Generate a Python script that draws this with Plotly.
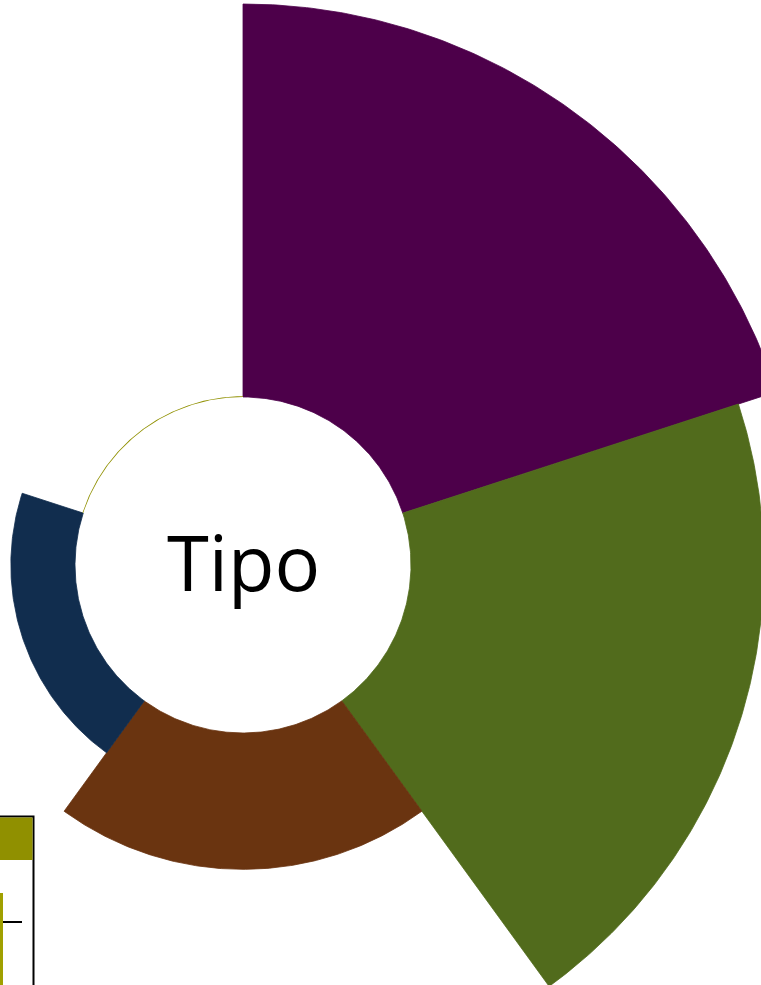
import numpy as np
import plotly.graph_objects as go

# Data
tipos = ["Residencial", "Comercial", "Industrial", "Institucional", "Otro"]
cantidades = [49, 44, 17, 8, 0.1]
colores = ["#4D004A", "#516B1C", "#6A3410", "#112D4E", "#909000"]

# Canvas geometry (pixels)
W, H = 761, 985
cx, cy = 243, 565          # centre of the radial chart
px_per_unit = 8.02         # radial scale: pixels per unit of "cantidad"
hole = 168 / px_per_unit   # radius of the central hole, in data units

# Each category gets an equal angular slice, starting at 12 o'clock, clockwise
n = len(tipos)
slice_deg = 360 / n


def wedge(value, k, step=0.5):
    """Outline of an annular sector for category k with radial length `value`."""
    a0 = 90 - slice_deg * k
    a1 = a0 - slice_deg
    ang = np.radians(np.arange(a0, a1 - step / 2, -step))
    r_out = hole + value
    xs = np.concatenate([r_out * np.cos(ang), hole * np.cos(ang[::-1])])
    ys = np.concatenate([r_out * np.sin(ang), hole * np.sin(ang[::-1])])
    return np.append(xs, xs[0]), np.append(ys, ys[0])


fig = go.Figure()
for k, (tipo, val, col) in enumerate(zip(tipos, cantidades, colores)):
    xs, ys = wedge(val, k)
    # a thin same-colour outline hides seams between neighbouring sectors;
    # skip it for hairline sectors so they stay hairline
    lw = 0.8 if val >= 1 else 0
    fig.add_trace(go.Scatter(
        x=xs, y=ys, mode="lines", fill="toself",
        fillcolor=col, line=dict(color=col, width=lw),
        name=tipo, hoveron="fills",
        hovertemplate=f"{tipo}: {val:g}<extra></extra>",
        showlegend=False,
    ))

# Axis ranges so that one data unit is px_per_unit pixels on both axes
x_range = [-cx / px_per_unit, (W - cx) / px_per_unit]
y_range = [-(H - cy) / px_per_unit, cy / px_per_unit]

fig.update_layout(
    width=W, height=H,
    margin=dict(l=0, r=0, t=0, b=0),
    paper_bgcolor="white", plot_bgcolor="white",
    showlegend=False,
    xaxis=dict(range=x_range, visible=False, fixedrange=True),
    yaxis=dict(range=y_range, visible=False, fixedrange=True),
    annotations=[dict(
        text="Tipo", x=0, y=0, xref="x", yref="y", yshift=4,
        xanchor="center", yanchor="middle", showarrow=False,
        font=dict(family="Open Sans", size=76, color="black"),
    )],
)


# Legend frame peeking in at the lower-left corner
def px(x):
    return x / W


def py(y):
    return 1 - y / H


fig.add_shape(type="rect", xref="paper", yref="paper",
              x0=px(-20), x1=px(33.5), y0=py(1010), y1=py(816.5),
              line=dict(color="black", width=2), fillcolor="white", layer="above")
fig.add_shape(type="rect", xref="paper", yref="paper",
              x0=px(-20), x1=px(32.5), y0=py(860), y1=py(817.5),
              line=dict(width=0), fillcolor="#909000", layer="above")
fig.add_shape(type="rect", xref="paper", yref="paper",
              x0=px(-20), x1=px(3), y0=py(1010), y1=py(893),
              line=dict(width=0), fillcolor="#A0A000", layer="above")
fig.add_shape(type="line", xref="paper", yref="paper",
              x0=px(3), x1=px(22), y0=py(922), y1=py(922),
              line=dict(color="black", width=2), layer="above")

fig.write_html("out.html")
